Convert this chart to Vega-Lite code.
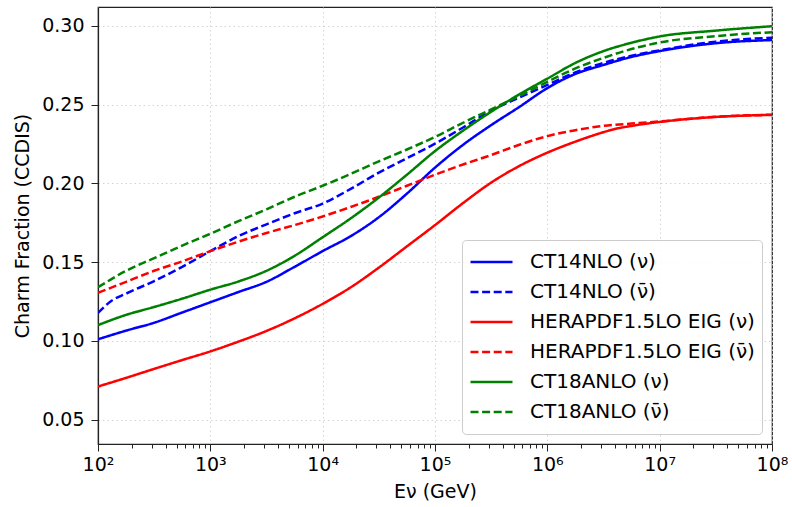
{
  "$schema": "https://vega.github.io/schema/vega-lite/v6.json",
  "width": 674,
  "height": 437,
  "autosize": {"type": "none"},
  "padding": {"left": 98, "top": 7, "right": 20, "bottom": 63},
  "background": "white",
  "config": {
    "font": "DejaVu Sans",
    "view": {"stroke": "#222", "strokeWidth": 1.2},
    "axis": {
      "domainColor": "#222", "domainWidth": 1.2, "tickColor": "#222", "tickWidth": 1,
      "labelColor": "black", "labelFontSize": 19, "labelFont": "DejaVu Sans",
      "titleFont": "DejaVu Sans", "titleFontSize": 19, "titleFontWeight": "normal", "titleColor": "black",
      "gridColor": "#cfcfcf", "gridDash": [1.5, 3], "gridWidth": 0.9
    }
  },
  "data": {"values": [
    {"E":100,"f":0.101,"s":"CT14NLO (ν)"},{"E":178,"f":0.1065,"s":"CT14NLO (ν)"},{"E":316,"f":0.1115,"s":"CT14NLO (ν)"},{"E":562,"f":0.118,"s":"CT14NLO (ν)"},{"E":1000,"f":0.1245,"s":"CT14NLO (ν)"},{"E":1778,"f":0.131,"s":"CT14NLO (ν)"},{"E":3162,"f":0.1375,"s":"CT14NLO (ν)"},{"E":5623,"f":0.147,"s":"CT14NLO (ν)"},{"E":10000,"f":0.157,"s":"CT14NLO (ν)"},{"E":17783,"f":0.1665,"s":"CT14NLO (ν)"},{"E":31623,"f":0.1785,"s":"CT14NLO (ν)"},{"E":56234,"f":0.1935,"s":"CT14NLO (ν)"},{"E":100000,"f":0.21,"s":"CT14NLO (ν)"},{"E":177828,"f":0.2245,"s":"CT14NLO (ν)"},{"E":316228,"f":0.237,"s":"CT14NLO (ν)"},{"E":562341,"f":0.2485,"s":"CT14NLO (ν)"},{"E":1000000,"f":0.2605,"s":"CT14NLO (ν)"},{"E":1778279,"f":0.2695,"s":"CT14NLO (ν)"},{"E":3162278,"f":0.2752,"s":"CT14NLO (ν)"},{"E":5623413,"f":0.2803,"s":"CT14NLO (ν)"},{"E":10000000,"f":0.284,"s":"CT14NLO (ν)"},{"E":31622777,"f":0.289,"s":"CT14NLO (ν)"},{"E":100000000,"f":0.291,"s":"CT14NLO (ν)"},

    {"E":100,"f":0.1177,"s":"CT14NLO (ν̄)"},{"E":132,"f":0.1255,"s":"CT14NLO (ν̄)"},{"E":178,"f":0.13,"s":"CT14NLO (ν̄)"},{"E":316,"f":0.138,"s":"CT14NLO (ν̄)"},{"E":562,"f":0.147,"s":"CT14NLO (ν̄)"},{"E":1000,"f":0.157,"s":"CT14NLO (ν̄)"},{"E":1778,"f":0.1665,"s":"CT14NLO (ν̄)"},{"E":3162,"f":0.174,"s":"CT14NLO (ν̄)"},{"E":5623,"f":0.181,"s":"CT14NLO (ν̄)"},{"E":10000,"f":0.1872,"s":"CT14NLO (ν̄)"},{"E":17783,"f":0.1965,"s":"CT14NLO (ν̄)"},{"E":31623,"f":0.2068,"s":"CT14NLO (ν̄)"},{"E":56234,"f":0.216,"s":"CT14NLO (ν̄)"},{"E":100000,"f":0.2252,"s":"CT14NLO (ν̄)"},{"E":177828,"f":0.2355,"s":"CT14NLO (ν̄)"},{"E":316228,"f":0.2462,"s":"CT14NLO (ν̄)"},{"E":562341,"f":0.2545,"s":"CT14NLO (ν̄)"},{"E":1000000,"f":0.2625,"s":"CT14NLO (ν̄)"},{"E":1778279,"f":0.2705,"s":"CT14NLO (ν̄)"},{"E":3162278,"f":0.2765,"s":"CT14NLO (ν̄)"},{"E":5623413,"f":0.281,"s":"CT14NLO (ν̄)"},{"E":10000000,"f":0.2845,"s":"CT14NLO (ν̄)"},{"E":31622777,"f":0.29,"s":"CT14NLO (ν̄)"},{"E":100000000,"f":0.2925,"s":"CT14NLO (ν̄)"},

    {"E":100,"f":0.071,"s":"HERAPDF1.5LO EIG (ν)"},{"E":178,"f":0.0765,"s":"HERAPDF1.5LO EIG (ν)"},{"E":316,"f":0.0822,"s":"HERAPDF1.5LO EIG (ν)"},{"E":562,"f":0.0878,"s":"HERAPDF1.5LO EIG (ν)"},{"E":1000,"f":0.0933,"s":"HERAPDF1.5LO EIG (ν)"},{"E":1778,"f":0.0995,"s":"HERAPDF1.5LO EIG (ν)"},{"E":3162,"f":0.1063,"s":"HERAPDF1.5LO EIG (ν)"},{"E":5623,"f":0.1143,"s":"HERAPDF1.5LO EIG (ν)"},{"E":10000,"f":0.1235,"s":"HERAPDF1.5LO EIG (ν)"},{"E":17783,"f":0.134,"s":"HERAPDF1.5LO EIG (ν)"},{"E":31623,"f":0.1465,"s":"HERAPDF1.5LO EIG (ν)"},{"E":56234,"f":0.16,"s":"HERAPDF1.5LO EIG (ν)"},{"E":100000,"f":0.1735,"s":"HERAPDF1.5LO EIG (ν)"},{"E":177828,"f":0.1875,"s":"HERAPDF1.5LO EIG (ν)"},{"E":316228,"f":0.2005,"s":"HERAPDF1.5LO EIG (ν)"},{"E":562341,"f":0.211,"s":"HERAPDF1.5LO EIG (ν)"},{"E":1000000,"f":0.2195,"s":"HERAPDF1.5LO EIG (ν)"},{"E":1778279,"f":0.2265,"s":"HERAPDF1.5LO EIG (ν)"},{"E":3162278,"f":0.2325,"s":"HERAPDF1.5LO EIG (ν)"},{"E":3981072,"f":0.2345,"s":"HERAPDF1.5LO EIG (ν)"},{"E":5623413,"f":0.2365,"s":"HERAPDF1.5LO EIG (ν)"},{"E":10000000,"f":0.239,"s":"HERAPDF1.5LO EIG (ν)"},{"E":31622777,"f":0.2422,"s":"HERAPDF1.5LO EIG (ν)"},{"E":100000000,"f":0.2435,"s":"HERAPDF1.5LO EIG (ν)"},

    {"E":100,"f":0.1305,"s":"HERAPDF1.5LO EIG (ν̄)"},{"E":178,"f":0.1375,"s":"HERAPDF1.5LO EIG (ν̄)"},{"E":316,"f":0.1445,"s":"HERAPDF1.5LO EIG (ν̄)"},{"E":562,"f":0.1505,"s":"HERAPDF1.5LO EIG (ν̄)"},{"E":1000,"f":0.157,"s":"HERAPDF1.5LO EIG (ν̄)"},{"E":1778,"f":0.163,"s":"HERAPDF1.5LO EIG (ν̄)"},{"E":3162,"f":0.1685,"s":"HERAPDF1.5LO EIG (ν̄)"},{"E":5623,"f":0.1735,"s":"HERAPDF1.5LO EIG (ν̄)"},{"E":10000,"f":0.179,"s":"HERAPDF1.5LO EIG (ν̄)"},{"E":17783,"f":0.185,"s":"HERAPDF1.5LO EIG (ν̄)"},{"E":31623,"f":0.1915,"s":"HERAPDF1.5LO EIG (ν̄)"},{"E":56234,"f":0.1985,"s":"HERAPDF1.5LO EIG (ν̄)"},{"E":100000,"f":0.2055,"s":"HERAPDF1.5LO EIG (ν̄)"},{"E":177828,"f":0.212,"s":"HERAPDF1.5LO EIG (ν̄)"},{"E":316228,"f":0.218,"s":"HERAPDF1.5LO EIG (ν̄)"},{"E":562341,"f":0.2245,"s":"HERAPDF1.5LO EIG (ν̄)"},{"E":1000000,"f":0.23,"s":"HERAPDF1.5LO EIG (ν̄)"},{"E":1778279,"f":0.2338,"s":"HERAPDF1.5LO EIG (ν̄)"},{"E":3162278,"f":0.2365,"s":"HERAPDF1.5LO EIG (ν̄)"},{"E":5623413,"f":0.238,"s":"HERAPDF1.5LO EIG (ν̄)"},{"E":10000000,"f":0.2393,"s":"HERAPDF1.5LO EIG (ν̄)"},{"E":31622777,"f":0.2423,"s":"HERAPDF1.5LO EIG (ν̄)"},{"E":100000000,"f":0.2436,"s":"HERAPDF1.5LO EIG (ν̄)"},

    {"E":100,"f":0.11,"s":"CT18ANLO (ν)"},{"E":178,"f":0.1165,"s":"CT18ANLO (ν)"},{"E":316,"f":0.1215,"s":"CT18ANLO (ν)"},{"E":562,"f":0.1268,"s":"CT18ANLO (ν)"},{"E":1000,"f":0.1325,"s":"CT18ANLO (ν)"},{"E":1778,"f":0.1377,"s":"CT18ANLO (ν)"},{"E":3162,"f":0.1445,"s":"CT18ANLO (ν)"},{"E":5623,"f":0.154,"s":"CT18ANLO (ν)"},{"E":10000,"f":0.1658,"s":"CT18ANLO (ν)"},{"E":17783,"f":0.1778,"s":"CT18ANLO (ν)"},{"E":31623,"f":0.191,"s":"CT18ANLO (ν)"},{"E":56234,"f":0.2055,"s":"CT18ANLO (ν)"},{"E":100000,"f":0.2205,"s":"CT18ANLO (ν)"},{"E":177828,"f":0.2335,"s":"CT18ANLO (ν)"},{"E":316228,"f":0.2455,"s":"CT18ANLO (ν)"},{"E":562341,"f":0.2565,"s":"CT18ANLO (ν)"},{"E":1000000,"f":0.2665,"s":"CT18ANLO (ν)"},{"E":1778279,"f":0.2765,"s":"CT18ANLO (ν)"},{"E":3162278,"f":0.284,"s":"CT18ANLO (ν)"},{"E":5623413,"f":0.2893,"s":"CT18ANLO (ν)"},{"E":10000000,"f":0.2933,"s":"CT18ANLO (ν)"},{"E":31622777,"f":0.297,"s":"CT18ANLO (ν)"},{"E":100000000,"f":0.2998,"s":"CT18ANLO (ν)"},

    {"E":100,"f":0.134,"s":"CT18ANLO (ν̄)"},{"E":178,"f":0.1445,"s":"CT18ANLO (ν̄)"},{"E":316,"f":0.1525,"s":"CT18ANLO (ν̄)"},{"E":562,"f":0.1605,"s":"CT18ANLO (ν̄)"},{"E":1000,"f":0.168,"s":"CT18ANLO (ν̄)"},{"E":1778,"f":0.176,"s":"CT18ANLO (ν̄)"},{"E":3162,"f":0.1835,"s":"CT18ANLO (ν̄)"},{"E":5623,"f":0.1915,"s":"CT18ANLO (ν̄)"},{"E":10000,"f":0.1985,"s":"CT18ANLO (ν̄)"},{"E":17783,"f":0.206,"s":"CT18ANLO (ν̄)"},{"E":31623,"f":0.214,"s":"CT18ANLO (ν̄)"},{"E":56234,"f":0.2215,"s":"CT18ANLO (ν̄)"},{"E":100000,"f":0.2295,"s":"CT18ANLO (ν̄)"},{"E":177828,"f":0.2385,"s":"CT18ANLO (ν̄)"},{"E":316228,"f":0.247,"s":"CT18ANLO (ν̄)"},{"E":562341,"f":0.2555,"s":"CT18ANLO (ν̄)"},{"E":1000000,"f":0.2645,"s":"CT18ANLO (ν̄)"},{"E":1778279,"f":0.273,"s":"CT18ANLO (ν̄)"},{"E":3162278,"f":0.2797,"s":"CT18ANLO (ν̄)"},{"E":5623413,"f":0.2853,"s":"CT18ANLO (ν̄)"},{"E":10000000,"f":0.2895,"s":"CT18ANLO (ν̄)"},{"E":31622777,"f":0.2935,"s":"CT18ANLO (ν̄)"},{"E":100000000,"f":0.296,"s":"CT18ANLO (ν̄)"}
  ]},
  "mark": {"type": "line", "strokeWidth": 2.5, "clip": true, "interpolate": "monotone"},
  "encoding": {
    "x": {
      "field": "E", "type": "quantitative",
      "scale": {"type": "log", "domain": [100, 100000000], "nice": false},
      "axis": {
        "title": "Eν (GeV)",
        "titlePadding": 8,
        "values": [100,200,300,400,500,600,700,800,900,1000,2000,3000,4000,5000,6000,7000,8000,9000,10000,20000,30000,40000,50000,60000,70000,80000,90000,100000,200000,300000,400000,500000,600000,700000,800000,900000,1000000,2000000,3000000,4000000,5000000,6000000,7000000,8000000,9000000,10000000,20000000,30000000,40000000,50000000,60000000,70000000,80000000,90000000,100000000],
        "labelExpr": "abs(log(datum.value)/LN10 - round(log(datum.value)/LN10)) < 0.001 ? '10' + ['⁰','¹','²','³','⁴','⁵','⁶','⁷','⁸'][round(log(datum.value)/LN10)] : ''",
        "tickSize": {"condition": {"test": "abs(log(datum.value)/LN10 - round(log(datum.value)/LN10)) < 0.001", "value": 7}, "value": 4},
        "gridOpacity": {"condition": {"test": "abs(log(datum.value)/LN10 - round(log(datum.value)/LN10)) < 0.001", "value": 1}, "value": 0},
        "labelPadding": 4,
        "labelFlush": false
      }
    },
    "y": {
      "field": "f", "type": "quantitative",
      "scale": {"domain": [0.0345, 0.312], "nice": false, "zero": false},
      "axis": {
        "title": "Charm Fraction (CCDIS)",
        "values": [0.05, 0.1, 0.15, 0.2, 0.25, 0.3],
        "format": ".2f",
        "tickSize": 7,
        "labelPadding": 7,
        "titlePadding": 9
      }
    },
    "color": {
      "field": "s", "type": "nominal",
      "scale": {
        "domain": ["CT14NLO (ν)", "CT14NLO (ν̄)", "HERAPDF1.5LO EIG (ν)", "HERAPDF1.5LO EIG (ν̄)", "CT18ANLO (ν)", "CT18ANLO (ν̄)"],
        "range": ["#0000ff", "#0000ff", "#ff0000", "#ff0000", "#008000", "#008000"]
      },
      "legend": {
        "title": null,
        "orient": "bottom-right",
        "offset": 10,
        "fillColor": "rgba(255,255,255,0.85)",
        "strokeColor": "#cccccc",
        "cornerRadius": 4,
        "padding": 7,
        "labelFontSize": 20,
        "labelFont": "DejaVu Sans",
        "labelColor": "black",
        "labelOffset": 16,
        "symbolType": "stroke",
        "symbolSize": 1764,
        "symbolStrokeWidth": 2.5,
        "clipHeight": 30,
        "rowPadding": 0,
        "labelLimit": 400
      }
    },
    "strokeDash": {
      "field": "s", "type": "nominal",
      "scale": {
        "domain": ["CT14NLO (ν)", "CT14NLO (ν̄)", "HERAPDF1.5LO EIG (ν)", "HERAPDF1.5LO EIG (ν̄)", "CT18ANLO (ν)", "CT18ANLO (ν̄)"],
        "range": [[1, 0], [8, 3.6], [1, 0], [8, 3.6], [1, 0], [8, 3.6]]
      }
    }
  }
}
